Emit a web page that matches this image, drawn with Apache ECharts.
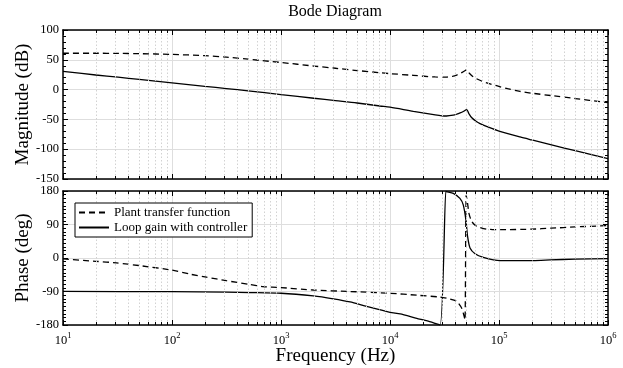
<!DOCTYPE html>
<html>
<head>
<meta charset="utf-8">
<script src="https://cdn.jsdelivr.net/npm/echarts@6/dist/echarts.min.js"></script>
<style>
html,body{margin:0;padding:0;background:#fff;}
#chart{width:623px;height:368px;}
</style>
</head>
<body>
<div id="chart"></div>
<script>
// Frequency samples (Hz) and responses, one pair of arrays per curve
const plantMagFreq = [10, 20, 32, 50, 100, 200, 316, 500, 1000, 2000, 3160, 5000, 8100, 10000, 16400, 26000, 33000, 38000, 41000, 44000, 47000, 49000, 50500, 52000, 54000, 58000, 62000, 70000, 80000, 95000, 120000, 156000, 200000, 316000, 500000, 1000000];
const plantMag = [61, 61, 60.8, 60.3, 59, 57, 54.5, 51, 45.5, 39.5, 35.8, 32, 28.3, 26.8, 23.9, 21.2, 21, 22.5, 24.5, 27, 30, 32, 33.5, 30.5, 26.7, 21.5, 18.3, 14, 10.5, 6.5, 1.5, -3, -6, -10.5, -15, -22];

const loopMagFreq = [10, 20, 32, 50, 100, 200, 316, 500, 1000, 2000, 3160, 5000, 8100, 10000, 16400, 26000, 30000, 33000, 38000, 41000, 44000, 47000, 50500, 53000, 56000, 62000, 67000, 80000, 100000, 156000, 200000, 316000, 500000, 1000000];
const loopMag = [30.5, 24.5, 20.8, 17, 11.3, 5.5, 1.8, -2, -8.3, -14.5, -18.5, -22.5, -27.5, -29.5, -36.5, -42.5, -44, -44.3, -43, -41.3, -39.2, -36.8, -33.5, -40.5, -46.8, -53.5, -57, -63, -69.5, -79.5, -84.5, -93.5, -102.5, -116];

const plantPhaseFreq = [10, 20, 31, 50, 100, 150, 207, 316, 520, 684, 1000, 1980, 4300, 10000, 17600, 28800, 35500, 40800, 45500, 47800, 48800, 50000, 51500, 53000, 56200, 62400, 77000, 102000, 200000, 300000, 500000, 1000000];
const plantPhase = [-2.6, -8.8, -13.2, -20.3, -32.6, -44, -51.5, -61, -71.3, -76.8, -79.5, -86, -90, -94.7, -100, -105, -110, -116, -135, -156, -166, 169, 147, 120, 98, 85, 77.5, 76, 77.5, 80, 83.5, 87];

const loopPhaseFreq = [10, 100, 316, 520, 1000, 1980, 3020, 4300, 6100, 10000, 12400, 17600, 22000, 28800, 32500, 33000, 38100, 43800, 47000, 49700, 51500, 54200, 60300, 71800, 102000, 207000, 294000, 500000, 1000000];
const loopPhase = [-89.8, -90.5, -91.5, -92.8, -94.7, -102, -109.7, -118, -130, -146, -150, -162, -169, -179.5, 179.5, 178.5, 173.8, 160, 142.6, 102, 58, 27, 11.6, 1.8, -7, -7, -5.3, -3, -1.5];

// Axis ranges and tick steps
const freqRange = [10, 1000000];
const magRange = [-150, 100];
const magStep = 50;
const phaseRange = [-180, 180];
const phaseStep = 90;

const seriesNames = ['Plant transfer function', 'Loop gain with controller'];

const FONT = 'Liberation Serif';

function pairs(xs, ys) { return xs.map((x, i) => [x, ys[i]]); }

// Values 2..9 within every decade, for the dotted minor grid
const minorFreqs = [];
for (let d = freqRange[0]; d < freqRange[1]; d *= 10) {
  for (let k = 2; k <= 9; k++) minorFreqs.push(k * d);
}

function minorGridMarks(yMin, yMax, tickLen) {
  const data = minorFreqs.map(v => [{ coord: [v, yMin] }, { coord: [v, yMax] }]);
  const ticks = [];
  minorFreqs.forEach(v => {
    ticks.push([{ coord: [v, yMin] }, { coord: [v, yMin + tickLen] }]);
    ticks.push([{ coord: [v, yMax] }, { coord: [v, yMax - tickLen] }]);
  });
  return [data, ticks];
}

const magMarks = minorGridMarks(magRange[0], magRange[1], 5);
const phaseMarks = minorGridMarks(phaseRange[0], phaseRange[1], 8);

function helperSeries(xi, yi, marks) {
  return [
    {
      type: 'line', xAxisIndex: xi, yAxisIndex: yi, data: [], silent: true, z: 1,
      markLine: {
        silent: true, symbol: ['none', 'none'], animation: false,
        label: { show: false },
        lineStyle: { type: [1.5, 2], color: '#d2d2d2', width: 1 },
        emphasis: { disabled: true },
        data: marks[0]
      }
    },
    {
      type: 'line', xAxisIndex: xi, yAxisIndex: yi, data: [], silent: true, z: 4,
      markLine: {
        silent: true, symbol: ['none', 'none'], animation: false,
        label: { show: false },
        lineStyle: { type: 'solid', color: '#000', width: 1 },
        emphasis: { disabled: true },
        data: marks[1]
      }
    }
  ];
}

const tickLabelStyle = { fontFamily: FONT, fontSize: 12.5, color: '#000' };

function xAxisDef(gridIndex, position, showLabels, name) {
  return {
    type: 'log', logBase: 10, gridIndex, position,
    min: freqRange[0], max: freqRange[1],
    axisLine: { show: true, onZero: false, lineStyle: { color: '#000', width: 1.5 } },
    axisTick: { show: true, inside: true, length: 5, lineStyle: { color: '#000' } },
    splitLine: { show: position === 'bottom', lineStyle: { color: '#dedede', width: 1 } },
    axisLabel: {
      show: showLabels, margin: 6,
      formatter: v => '{b|10}{s|' + Math.round(Math.log10(v)) + '}',
      rich: {
        b: { fontFamily: FONT, fontSize: 12.5, color: '#000', lineHeight: 16, verticalAlign: 'bottom' },
        s: { fontFamily: FONT, fontSize: 8.5, color: '#000', lineHeight: 16, verticalAlign: 'top' }
      }
    },
    name: name || '',
    nameLocation: 'middle', nameGap: 22, nameMoveOverlap: false,
    nameTextStyle: { fontFamily: FONT, fontSize: 19, color: '#000', verticalAlign: 'top' }
  };
}

function yAxisDef(gridIndex, position, range, step, minorSplit, name) {
  const left = position === 'left';
  return {
    type: 'value', gridIndex, position,
    min: range[0], max: range[1], interval: step,
    axisLine: { show: true, onZero: false, lineStyle: { color: '#000', width: 1.5 } },
    axisTick: { show: true, inside: true, length: 5, lineStyle: { color: '#000' } },
    minorTick: { show: true, splitNumber: minorSplit, length: 3, lineStyle: { color: '#000' } },
    splitLine: { show: left, lineStyle: { color: '#dedede', width: 1 } },
    axisLabel: Object.assign({ show: left, margin: 4 }, tickLabelStyle),
    name: left ? name : '',
    nameLocation: 'middle', nameGap: 30, nameRotate: 90, nameMoveOverlap: false,
    nameTextStyle: { fontFamily: FONT, fontSize: 19, color: '#000' }
  };
}

const chart = echarts.init(document.getElementById('chart'), null, { renderer: 'canvas' });

chart.setOption({
  animation: false,
  backgroundColor: '#fff',
  graphic: [{
    type: 'text', x: 335, y: 4,
    style: { text: 'Bode Diagram', fontFamily: FONT, fontSize: 16, fill: '#000', textAlign: 'center', textVerticalAlign: 'top' }
  }],
  grid: [
    { left: 63, right: 15, top: 30, height: 149 },
    { left: 63, right: 15, top: 191, height: 134 }
  ],
  legend: {
    left: 75, top: 203, orient: 'vertical', z: 10,
    data: seriesNames,
    backgroundColor: '#fff', borderColor: '#000', borderWidth: 1, borderRadius: 0,
    padding: [3, 5, 3, 3], itemGap: 2, itemWidth: 30, itemHeight: 12,
    itemStyle: { opacity: 0 },
    textStyle: { fontFamily: FONT, fontSize: 13, color: '#000' },
    selectedMode: false
  },
  xAxis: [
    xAxisDef(0, 'bottom', false),
    xAxisDef(0, 'top', false),
    xAxisDef(1, 'bottom', true, 'Frequency (Hz)'),
    xAxisDef(1, 'top', false)
  ],
  yAxis: [
    yAxisDef(0, 'left', magRange, magStep, 5, 'Magnitude (dB)'),
    yAxisDef(0, 'right', magRange, magStep, 5),
    yAxisDef(1, 'left', phaseRange, phaseStep, 9, 'Phase (deg)'),
    yAxisDef(1, 'right', phaseRange, phaseStep, 9)
  ],
  series: [
    ...helperSeries(0, 0, magMarks),
    ...helperSeries(2, 2, phaseMarks),
    {
      name: seriesNames[0], type: 'line', xAxisIndex: 0, yAxisIndex: 0, z: 3,
      data: pairs(plantMagFreq, plantMag), showSymbol: false, symbol: 'none', smooth: 0.3,
      lineStyle: { color: '#000', width: 1.3, type: [6, 4] }, itemStyle: { color: '#000' }
    },
    {
      name: seriesNames[1], type: 'line', xAxisIndex: 0, yAxisIndex: 0, z: 3,
      data: pairs(loopMagFreq, loopMag), showSymbol: false, symbol: 'none', smooth: 0.3,
      lineStyle: { color: '#000', width: 1.3, type: 'solid' }, itemStyle: { color: '#000' }
    },
    {
      name: seriesNames[0], type: 'line', xAxisIndex: 2, yAxisIndex: 2, z: 3,
      data: pairs(plantPhaseFreq, plantPhase), showSymbol: false, symbol: 'none', smooth: 0.2,
      lineStyle: { color: '#000', width: 1.3, type: [6, 4] }, itemStyle: { color: '#000' }
    },
    {
      name: seriesNames[1], type: 'line', xAxisIndex: 2, yAxisIndex: 2, z: 3,
      data: pairs(loopPhaseFreq, loopPhase), showSymbol: false, symbol: 'none', smooth: 0.2,
      lineStyle: { color: '#000', width: 1.3, type: 'solid' }, itemStyle: { color: '#000' }
    }
  ]
});
</script>
</body>
</html>
